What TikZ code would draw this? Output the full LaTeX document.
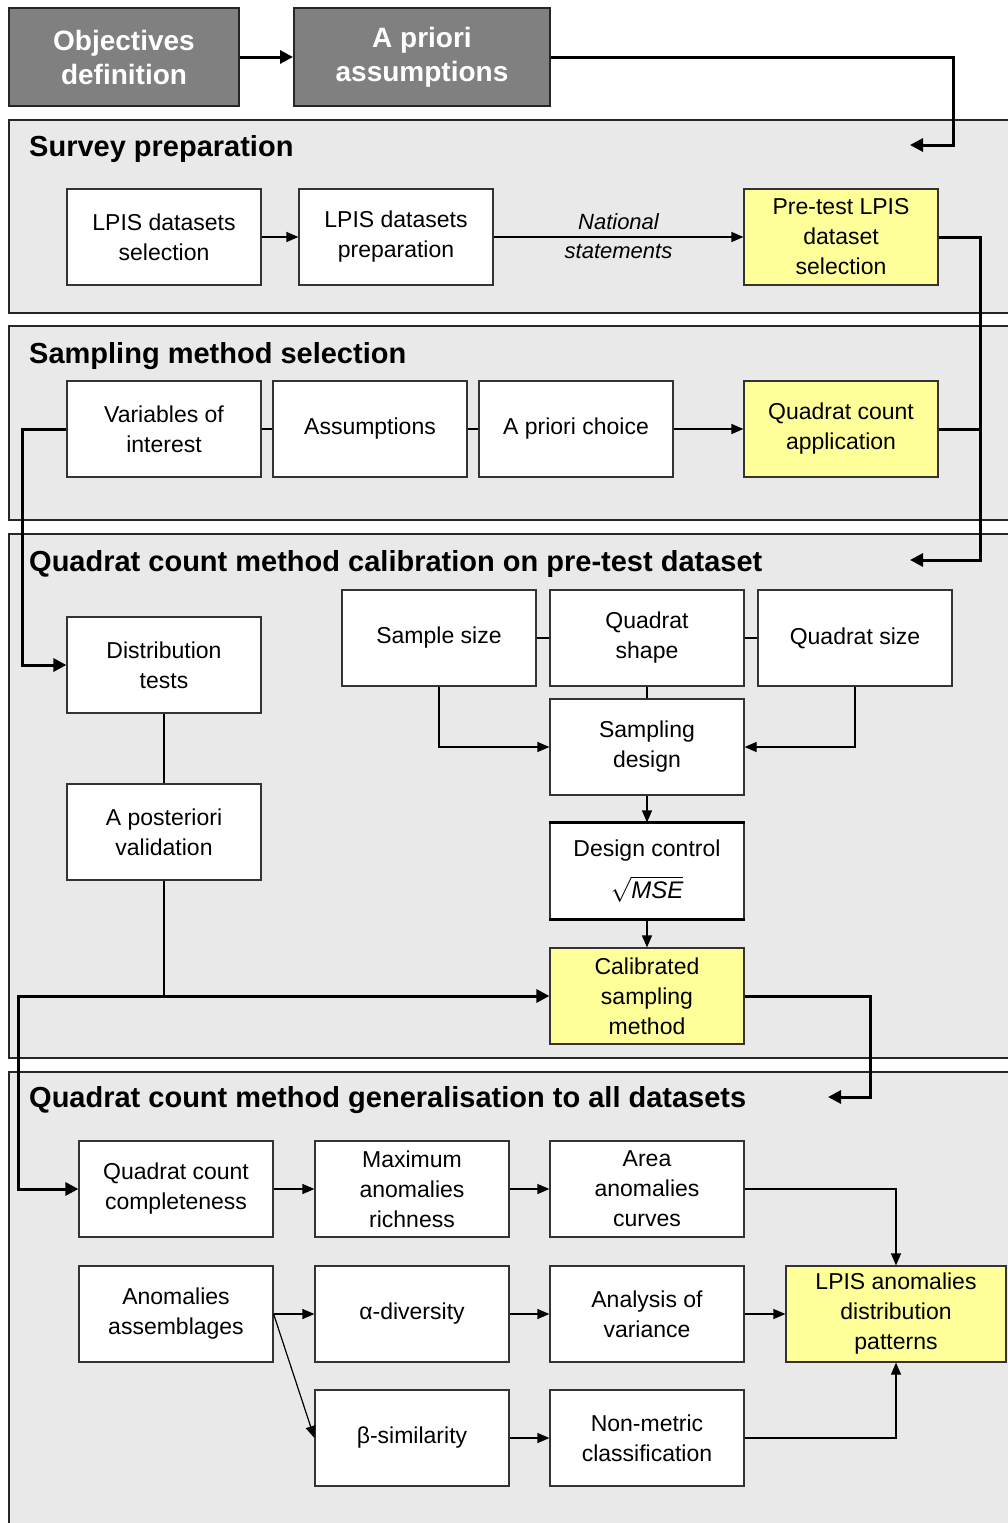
\documentclass[tikz,border=0pt]{standalone}
\usepackage{fontspec}
\setmainfont{Liberation Sans}
\usetikzlibrary{arrows.meta}
\definecolor{panelgray}{HTML}{E9E9E9}
\definecolor{paleyellow}{HTML}{FFFF99}
\definecolor{darkbox}{HTML}{808080}

\begin{document}
\begin{tikzpicture}
		[x=1pt,y=-1pt,
		 panel/.style= {draw=black!85,line width=1.2pt,fill=panelgray},
		 title/.style= {anchor=base west,inner sep=0pt,font=\fontsize{29}{32}\selectfont\bfseries},
		 box/.style= {draw=black!80,line width=1.2pt,fill=white,minimum width=194pt,minimum height=96pt,
		              align=center,inner sep=2pt,font=\fontsize{23}{30}\selectfont},
		 result/.style= {box,fill=paleyellow},
		 dark/.style= {draw=black!85,line width=2pt,fill=darkbox,minimum height=98pt,align=center,
		               text=white,font=\fontsize{28}{34}\selectfont\bfseries},
		 link/.style= {line width=1.2pt},
		 branch/.style= {link,-{Triangle[length=12pt,width=10pt]}},
		 main/.style= {line width=3pt},
		 mainbranch/.style= {main,-{Triangle[length=13pt,width=13pt]}},
		 twobranch/.style= {main,{Triangle[length=13pt,width=13pt]}-{Triangle[length=13pt,width=13pt]}}]
		
		\useasboundingbox (0,0) rectangle (1008,1523);
		
		% panels
		\draw[panel] (9,120) rectangle (1016,313);
		\draw[panel] (9,326) rectangle (1016,520);
		\draw[panel] (9,534) rectangle (1016,1058);
		\draw[panel] (9,1072) rectangle (1016,1530);
		\node[title] (t1) at (29,156) {Survey preparation};
		\node[title] (t2) at (29,363) {Sampling method selection};
		\node[title] (t3) at (29,571) {Quadrat count method calibration on pre-test dataset};
		\node[title] (t4) at (29,1107) {Quadrat count method generalisation to all datasets};
		\coordinate (in1) at (910,145);
		\coordinate (in3) at (910,560);
		\coordinate (in4) at (828,1097);
		
		% objectives
		\node[dark,minimum width=230pt] (obj) at (124,57) {Objectives\\definition};
		\node[dark,minimum width=256pt] (apr) at (422,57) {A priori\\assumptions};
		\draw[mainbranch] (obj) -- (apr);
		\draw[mainbranch] (apr.east) -| (953,145) -- (in1);
		
		% survey preparation
		\node[box] (sel) at (164,237) {LPIS datasets\\selection};
		\node[box] (prep) at (396,237) {LPIS datasets\\preparation};
		\node[result] (pre) at (841,237) {Pre-test LPIS\\dataset\\selection};
		\draw[branch] (sel) -- (prep);
		\draw[branch] (prep) -- node[above=3pt] {\fontsize{22}{26}\selectfont\itshape National}
			node[below=3pt] {\fontsize{22}{26}\selectfont\itshape statements} (pre);
		
		% sampling method selection
		\node[box] (var) at (164,429) {Variables of\\interest};
		\node[box] (ass) at (370,429) {Assumptions};
		\node[box] (cho) at (576,429) {A priori choice};
		\node[result] (app) at (841,429) {Quadrat count\\application};
		\draw[link] (var) -- (ass);
		\draw[link] (ass) -- (cho);
		\draw[branch] (cho) -- (app);
		\draw[main] (app.east) -- (980,429);
		\draw[mainbranch] (pre.east) -| (980,560) -- (in3);
		
		% calibration
		\node[box] (dis) at (164,665) {Distribution\\tests};
		\node[box] (pos) at (164,832) {A posteriori\\validation};
		\node[box] (ssz) at (439,638) {Sample size};
		\node[box] (qsh) at (647,638) {Quadrat\\shape};
		\node[box] (qsz) at (855,638) {Quadrat size};
		\node[box] (sdes) at (647,747) {Sampling\\design};
		\node[box] (dctl) at (647,871) {Design control\\[12pt]\fontsize{24}{30}\selectfont$\sqrt{\mathit{MSE}}$};
		\node[result] (cal) at (647,996) {Calibrated\\sampling\\method};
		\draw[mainbranch] (var.west) -- (22,429) |- (dis.west);
		\draw[main] (dctl.north west) -- (dctl.north east);
		\draw[main] (dctl.south west) -- (dctl.south east);
		\draw[link] (ssz) -- (qsh);
		\draw[link] (qsh) -- (qsz);
		\draw[link] (qsh) -- (sdes);
		\draw[branch] (ssz.south) |- (sdes.west);
		\draw[branch] (qsz.south) |- (sdes.east);
		\draw[branch] (sdes) -- (dctl);
		\draw[branch] (dctl) -- (cal);
		\draw[link] (dis) -- (pos);
		\draw[link] (pos.south) -- (pos.south |- cal.west);
		\draw[mainbranch] (cal.east) -| (870,1097) -- (in4);
		
		% generalisation
		\node[box] (comp) at (176,1189) {Quadrat count\\completeness};
		\node[box] (rich) at (412,1189) {Maximum\\anomalies\\richness};
		\node[box] (area) at (647,1189) {Area\\anomalies\\curves};
		\node[box] (asm) at (176,1314) {Anomalies\\assemblages};
		\node[box] (alpha) at (412,1314) {α-diversity};
		\node[box] (anova) at (647,1314) {Analysis of\\variance};
		\node[result,minimum width=220pt] (lpis) at (896,1314) {LPIS anomalies\\distribution\\patterns};
		\node[box] (beta) at (412,1438) {β-similarity};
		\node[box] (nmc) at (647,1438) {Non-metric\\classification};
		\draw[twobranch] (cal.west) -| (18,1189) -- (comp.west);
		\draw[branch] (comp) -- (rich);
		\draw[branch] (rich) -- (area);
		\draw[branch] (area.east) -| (lpis.north);
		\draw[branch] (asm) -- (alpha);
		\draw[branch] (alpha) -- (anova);
		\draw[branch] (anova) -- (lpis);
		\draw[branch] (asm.east) -- (beta.west);
		\draw[branch] (beta) -- (nmc);
		\draw[branch] (nmc.east) -| (lpis.south);
		
	\end{tikzpicture}
\end{document}
